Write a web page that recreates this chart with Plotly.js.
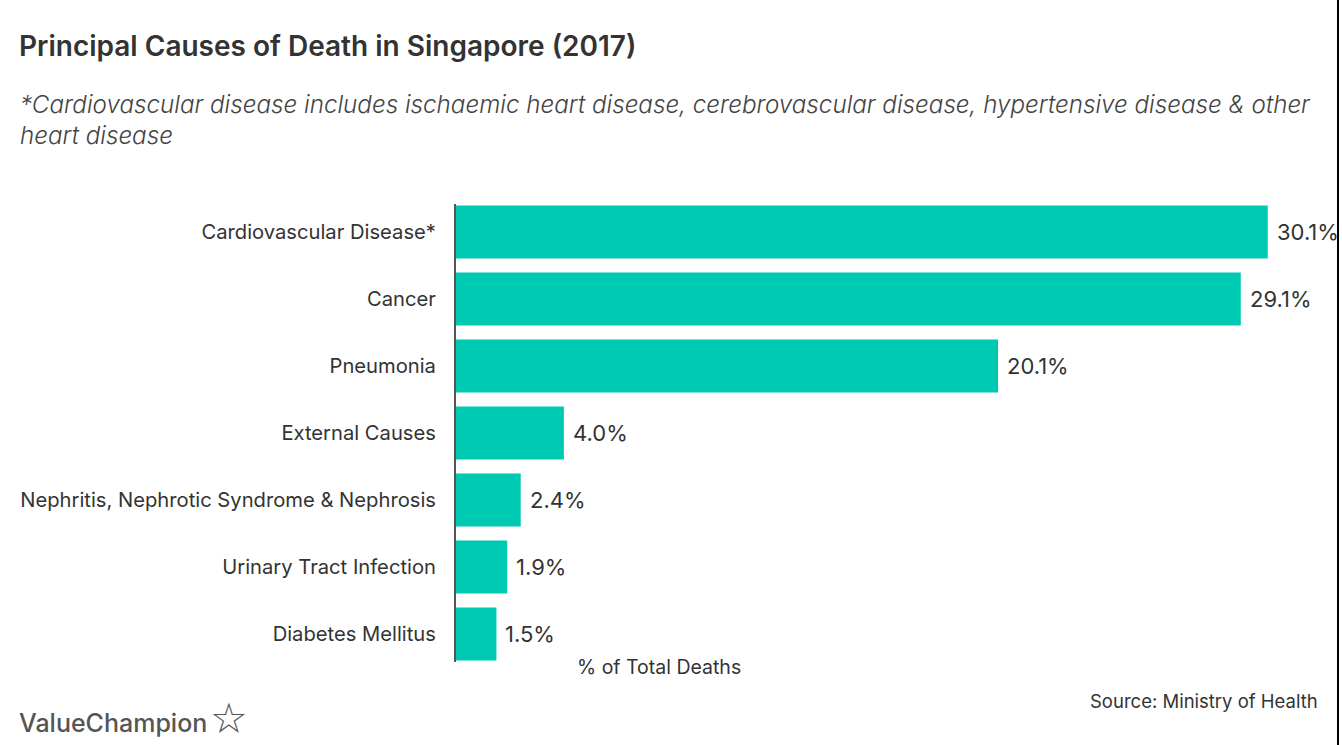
<!DOCTYPE html>
<html>
<head>
<meta charset="utf-8">
<script src="https://cdn.plot.ly/plotly-3.0.1.min.js"></script>
<style>html,body{margin:0;padding:0;background:#fff;}#chart{width:1342px;height:745px;}</style>
</head>
<body>
<div id="chart"></div>
<script>
const categories = ["Cardiovascular Disease*", "Cancer", "Pneumonia", "External Causes",
  "Nephritis, Nephrotic Syndrome & Nephrosis", "Urinary Tract Infection", "Diabetes Mellitus"];
const values = [30.1, 29.1, 20.1, 4.0, 2.4, 1.9, 1.5];
const valueLabels = ["30.1%", "29.1%", "20.1%", "4.0%", "2.4%", "1.9%", "1.5%"];

const FONT = "Inter, 'Open Sans', sans-serif";

const ML = 456, MR = 23, MT = 204, MB = 83, W = 1342, H = 745;
const pw = W - ML - MR, ph = H - MT - MB;
function px(xp) { return (xp - ML) / pw; }
function py(yp) { return (H - MB - yp) / ph; }

const trace = {
  type: "bar",
  orientation: "h",
  y: categories,
  x: values,
  marker: {color: "#00c9b1"},
  hoverinfo: "none"
};

const annotations = values.map((v, i) => ({
  x: v, y: categories[i], xref: "x", yref: "y",
  text: valueLabels[i], showarrow: false, xanchor: "left", xshift: 7,
  font: {family: FONT, size: 22, color: "#333"}
}));

annotations.push(
  {xref: "paper", yref: "paper", x: px(659), y: py(667), xanchor: "center", yanchor: "middle",
   text: "% of Total Deaths", showarrow: false, font: {family: FONT, size: 19.5, color: "#333"}},
  {xref: "paper", yref: "paper", x: px(18), y: py(88), xanchor: "left", yanchor: "top", align: "left",
   text: "<i>*Cardiovascular disease includes ischaemic heart disease, cerebrovascular disease, hypertensive disease &amp; other<br>heart disease</i>",
   showarrow: false, font: {family: FONT, size: 24.2, color: "#444", weight: 300}},
  {xref: "paper", yref: "paper", x: px(1320), y: py(701), xanchor: "right", yanchor: "middle",
   text: "Source: Ministry of Health", showarrow: false, font: {family: FONT, size: 18.5, color: "#333"}},
  {xref: "paper", yref: "paper", x: px(17), y: py(723), xanchor: "left", yanchor: "middle",
   text: "ValueChampion", showarrow: false, font: {family: FONT, size: 25, color: "#555", weight: 500}},
  {xref: "paper", yref: "paper", x: px(229), y: py(718), xanchor: "center", yanchor: "middle",
   text: "☆", showarrow: false, font: {family: "DejaVu Sans", size: 42, color: "#555"}}
);

const layout = {
  width: W, height: H,
  paper_bgcolor: "#fff", plot_bgcolor: "#fff",
  margin: {l: ML, r: MR, t: MT, b: MB},
  bargap: 0.21,
  showlegend: false,
  title: {
    text: "Principal Causes of Death in Singapore (2017)",
    x: 19 / W, xref: "container", xanchor: "left",
    y: 1 - 46 / H, yref: "container", yanchor: "middle",
    font: {family: FONT, size: 28, color: "#333", weight: 600}
  },
  xaxis: {range: [0, 32], showgrid: false, zeroline: false, showticklabels: false, showline: false, ticks: ""},
  yaxis: {
    type: "category",
    range: [6.418, -0.418],
    showgrid: false, zeroline: false,
    showline: true, linecolor: "#555", linewidth: 2,
    ticks: "", ticklabelstandoff: 14,
    tickfont: {family: FONT, size: 20.2, color: "#333"}
  },
  annotations: annotations,
  shapes: [
    {type: "line", xref: "paper", yref: "paper", x0: px(1338), x1: px(1338), y0: py(H), y1: py(0),
     line: {color: "#000", width: 2}}
  ]
};

Plotly.newPlot("chart", [trace], layout, {displayModeBar: false, staticPlot: true});
</script>
</body>
</html>
